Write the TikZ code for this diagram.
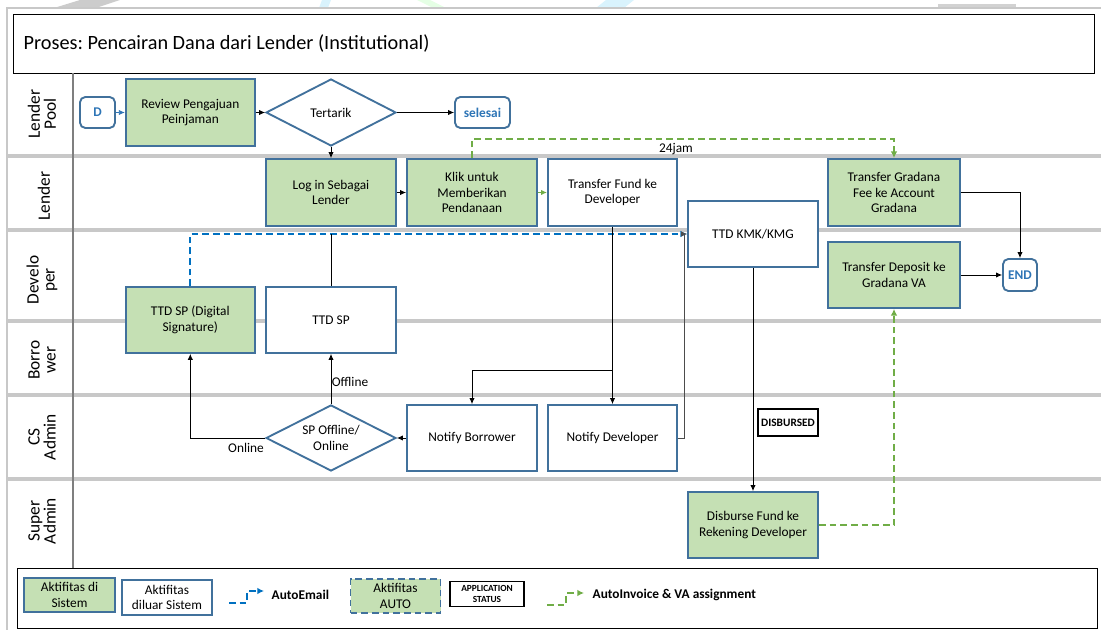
\documentclass[tikz,border=0pt]{standalone}
\usepackage{fontspec}
\setmainfont{Carlito}
\usetikzlibrary{shapes.geometric,arrows.meta,calc}
\definecolor{gfill}{HTML}{C5E0B4}
\definecolor{bbord}{HTML}{41719C}
\definecolor{tblue}{HTML}{2E75B6}
\definecolor{eblue}{HTML}{0070C0}
\definecolor{egreen}{HTML}{70AD47}
\definecolor{lanegray}{HTML}{C8C8C8}
\definecolor{hdrgray}{HTML}{7F7F7F}
\frenchspacing
\begin{document}
\begin{tikzpicture}[x=0.75pt,y=-0.75pt,
  sz/.style 2 args={minimum width=#1*0.75pt, minimum height=#2*0.75pt},
  box/.style={draw=bbord, line width=1.4pt, align=center, inner sep=1pt, font=\fontsize{10}{11.8}\selectfont},
  gbox/.style={box, fill=gfill},
  wbox/.style={box, fill=white},
  term/.style={draw=bbord, rounded corners=4pt, line width=1.4pt, fill=white, text=tblue, inner sep=0pt, font=\bfseries\fontsize{10}{12}\selectfont},
  dia/.style={diamond, shape aspect=2, draw=bbord, line width=1.4pt, fill=white, align=center, inner sep=0pt, font=\fontsize{10}{11.8}\selectfont},
  conn/.style={-{Latex[length=4.5pt,width=4pt]}, line width=0.6pt},
  edash/.style={eblue, dashed, dash pattern=on 5pt off 3pt, line width=1.4pt, -{Latex[length=5pt,width=5pt]}},
  gdash/.style={egreen, dashed, dash pattern=on 5pt off 3pt, line width=1.4pt, -{Latex[length=5pt,width=5pt]}},
  lane/.style={rotate=90, align=center, font=\fontsize{13}{12}\selectfont},
  lbl/.style={font=\fontsize{10}{12}\selectfont}
]
\useasboundingbox (0,0) rectangle (1101,630);
% watermark remnants
\fill[gray!40] (54,8) -- (80,0) -- (120,0) -- (96,8) -- cycle;
\fill[cyan!15] (319,8) -- (322,0) -- (331,0) -- (328,8) -- cycle;
\fill[green!10] (417,0) -- (430,0) -- (446,8) -- (433,8) -- cycle;
\fill[cyan!15] (596,8) -- (606,0) -- (634,0) -- (624,8) -- cycle;
\fill[gray!35] (938,4) rectangle (1016,8);
% outer frame
\draw[lanegray, line width=1pt] (7,630) -- (7,8) -- (1101,8);
% lane separators
\foreach \yy in {156,230,321,395,479}
  \draw[lanegray, line width=2.5pt] (7,\yy) -- (1101,\yy);
% title
\node[draw=black, line width=1pt, anchor=north west, inner sep=0pt, sz={1081}{59}] (title) at (13,14) {};
\node[anchor=west, font=\fontsize{15.2}{18}\selectfont] (ttl) at (19,44) {Proses: Pencairan Dana dari Lender (Institutional)};
% header column
\draw[hdrgray, line width=1.5pt] (73,73) -- (73,568);
\node[lane] (lp) at (42,114) {Lender\\Pool};
\node[lane] (ll) at (44,196) {Lender};
\node[lane] (ld) at (42,280) {Develo\\per};
\node[lane] (lb) at (42,360) {Borro\\wer};
\node[lane] (lc) at (42,437) {CS\\Admin};
\node[lane] (ls) at (42,521) {Super\\Admin};

% nodes
\node[term, sz={35}{31}] (D) at (97.5,112.5) {D};
\node[gbox, sz={129}{67}] (rev) at (190.3,112.5) {Review Pengajuan\\Peinjaman};
\node[dia, sz={130}{67}] (tert) at (331,112.5) {Tertarik};
\node[term, sz={55}{31}] (sel) at (482.5,112.5) {selesai};
\node[gbox, sz={130}{67}] (login) at (331,192.5) {Log in Sebagai\\Lender};
\node[gbox, sz={130}{67}] (klik) at (472,192.5) {Klik untuk\\Memberikan\\Pendanaan};
\node[wbox, sz={129}{67}] (tf) at (612.5,192.5) {Transfer Fund ke\\Developer};
\node[wbox, sz={130}{66}] (kmk) at (753,234) {TTD KMK/KMG};
\node[gbox, sz={132}{67}] (fee) at (894,192.5) {Transfer Gradana\\Fee ke Account\\Gradana};
\node[gbox, sz={132}{66}] (dep) at (894,275) {Transfer Deposit ke\\Gradana VA};
\node[term, sz={34}{32}] (end) at (1020,275) {END};
\node[gbox, sz={129}{66}] (spd) at (190.3,320) {TTD SP (Digital\\Signature)};
\node[wbox, sz={130}{66}] (sp) at (331,320) {TTD SP};
\node[dia, sz={130}{66}] (spo) at (331,438) {SP Offline/\\Online};
\node[wbox, sz={130}{66}] (nb) at (472,438) {Notify Borrower};
\node[wbox, sz={129}{66}] (nd) at (612.5,438) {Notify Developer};
\node[draw=black, line width=0.8pt, fill=white, inner sep=0pt, sz={60}{27}, font=\bfseries\fontsize{8.5}{10}\selectfont] (st) at (788,422.5) {DISBURSED};
\node[gbox, sz={130}{66}] (dis) at (753,525) {Disburse Fund ke\\Rekening Developer};

% connectors
\draw[conn, tblue] (D) -- (rev);
\draw[conn] (rev) -- (tert);
\draw[conn] (tert) -- (sel);
\draw[conn] (tert) -- (login);
\draw[conn] (login) -- (klik);
\draw[conn, egreen, line width=1pt] (klik) -- (tf);
\draw[gdash] (klik.north) -- ++(0,-19) -| (fee.north);
\node[lbl] (jam) at (676,149) {24jam};
\draw[edash] (spd.north) |- (kmk.west);
\draw[line width=0.6pt] (sp.north) -- (sp.north |- kmk.west);
\draw[conn] (tf.south) -- (nd.north);
\coordinate (br) at (612.5,370);
\draw[conn] (br) -| (nb.north);
\draw[conn, black!70] (nd.east) -- ++(6,0) |- (kmk.west);
\draw[conn] (nb) -- (spo);
\draw[conn] (spo.north) -- (sp.south);
\node[lbl] (off) at (350,382) {Offline};
\draw[conn] (spo.west) -| (spd.south);
\node[lbl] (on) at (246,448) {Online};
\draw[conn] (kmk.south) -- (dis.north);
\draw[gdash] (dis.east) -| (dep.south);
\draw[conn] (fee.east) -| (end.north);
\draw[conn] (dep) -- (end);

% legend
\node[draw=black, line width=1pt, anchor=north west, inner sep=0pt, sz={1080}{60}] (legend) at (17,568) {};
\node[gbox, sz={91}{34}] (lg1) at (69.5,595) {Aktifitas di\\Sistem};
\node[wbox, sz={90}{35}] (lg2) at (167,597.5) {Aktifitas\\diluar Sistem};
\coordinate (ae1) at (229,603);
\coordinate (ae2) at (264,591);
\draw[edash, line width=1.2pt] (ae1) -- (247,603) |- (ae2);
\node[anchor=west, font=\bfseries\fontsize{10}{12}\selectfont] (lg3) at (267,595) {AutoEmail};
\node[gbox, dashed, dash pattern=on 5pt off 3pt, sz={90}{34}] (lg4) at (395.5,596) {Aktifitas\\AUTO};
\node[draw=black, line width=1pt, align=center, inner sep=0pt, sz={74}{25}, font=\bfseries\fontsize{7}{8.5}\selectfont] (lg5) at (487,594) {APPLICATION\\STATUS};
\coordinate (ai1) at (547,605);
\coordinate (ai2) at (584,593);
\draw[gdash, line width=1.2pt] (ai1) -- (566,605) |- (ai2);
\node[anchor=west, font=\bfseries\fontsize{10}{12}\selectfont] (lg6) at (588,595) {AutoInvoice \& VA assignment};
\end{tikzpicture}
\end{document}
